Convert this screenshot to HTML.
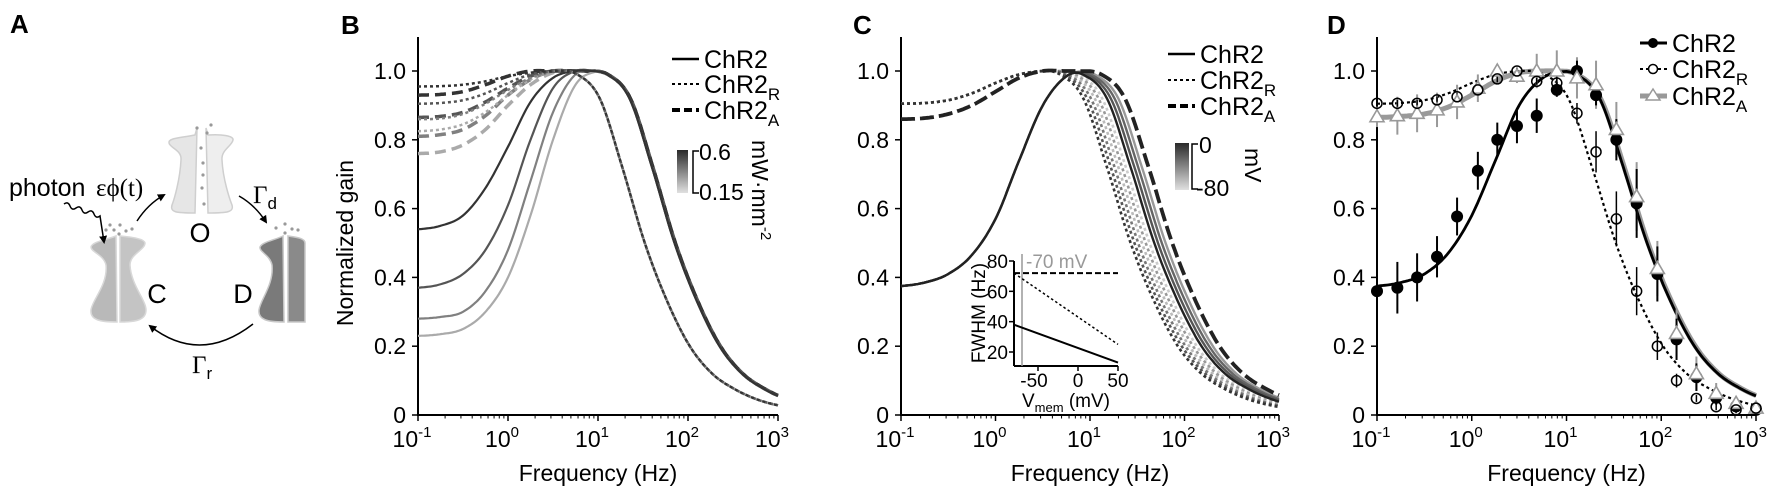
<!DOCTYPE html>
<html><head><meta charset="utf-8"><style>
html,body{margin:0;padding:0;background:#fff}
svg{display:block;font-family:"Liberation Sans",Arial,sans-serif}
</style></head><body>
<svg id="fig" width="1779" height="491" viewBox="0 0 1779 491" xmlns="http://www.w3.org/2000/svg">
<defs>
<linearGradient id="cbar" x1="0" y1="0" x2="0" y2="1"><stop offset="0" stop-color="#2a2a2a"/><stop offset="1" stop-color="#e0e0e0"/></linearGradient>
<marker id="ah" markerWidth="8" markerHeight="8" refX="6" refY="4" orient="auto" markerUnits="userSpaceOnUse"><path d="M0,0 L8,4 L0,8 Z" fill="#000"/></marker>
</defs>
<!-- Panel A -->
<g>
<text x="10" y="33" font-size="26" font-weight="bold">A</text>
<g stroke="#cfcfcf" stroke-width="1.5">
<path d="M197,128 L195,135 C180,138 168,138 169,143 C170,148 182,150 181,160 C180,180 174,200 172,205 C170,212 175,213 195,213 Z" fill="#e6e6e6"/>
<path d="M206,128 L208,135 C222,134 234,136 233,140 C232,146 221,150 222,160 C223,180 230,200 232,205 C234,212 228,213 208,213 Z" fill="#eeeeee"/>
</g>
<g fill="#999"><circle cx="197" cy="128" r="1.6"/><circle cx="211" cy="125" r="1.6"/><circle cx="207" cy="133" r="1.6"/><circle cx="201" cy="148" r="1.6"/><circle cx="203" cy="163" r="1.6"/><circle cx="203" cy="175" r="1.6"/><circle cx="202" cy="188" r="1.6"/><circle cx="204" cy="204" r="1.6"/></g>
<text x="200" y="242" font-size="27" text-anchor="middle">O</text>
<g stroke="#d8d8d8" stroke-width="1.5">
<path d="M116,236 C105,240 92,242 91,247 C91,252 104,255 106,265 C108,285 92,300 91,310 C90,320 100,322 117,322 Z" fill="#b9b9b9"/>
<path d="M120,236 C128,237 144,238 145,243 C145,250 130,254 130,265 C131,285 146,300 146,310 C146,320 136,322 120,322 Z" fill="#c4c4c4"/>
</g>
<g fill="#999"><circle cx="106" cy="230" r="1.6"/><circle cx="114" cy="230" r="1.6"/><circle cx="120" cy="225" r="1.6"/><circle cx="126" cy="231" r="1.6"/><circle cx="132" cy="229" r="1.6"/><circle cx="119" cy="234" r="1.6"/><circle cx="110" cy="225" r="1.6"/></g>
<text x="157" y="303" font-size="27" text-anchor="middle">C</text>
<g stroke="#c8c8c8" stroke-width="1.5">
<path d="M283,236 C275,240 262,242 260,247 C259,252 270,255 272,265 C274,285 260,300 259,310 C258,320 268,322 284,322 Z" fill="#7a7a7a"/>
<path d="M288,236 C295,237 305,238 305,243 L305,322 L288,322 Z" fill="#8a8a8a"/>
</g>
<g fill="#999"><circle cx="276" cy="228" r="1.6"/><circle cx="285" cy="224" r="1.6"/><circle cx="292" cy="229" r="1.6"/><circle cx="285" cy="233" r="1.6"/><circle cx="298" cy="230" r="1.6"/></g>
<text x="243" y="303" font-size="27" text-anchor="middle">D</text>
<text x="9" y="196" font-size="25">photon</text>
<text x="96" y="196" font-size="25" font-family="Liberation Serif,serif">εϕ(t)</text>
<path d="M64,204 q4,-3 6,2 q2,5 6,2 q4,-3 6,2 q2,5 6,2 q4,-3 6,2 q2,5 6,2 L104,242" fill="none" stroke="#000" stroke-width="1.5" marker-end="url(#ah)"/>
<path d="M137,221 Q148,204 164,195" fill="none" stroke="#000" stroke-width="1.5" marker-end="url(#ah)"/>
<path d="M239,196 Q255,205 266,222" fill="none" stroke="#000" stroke-width="1.5" marker-end="url(#ah)"/>
<path d="M253,324 Q200,365 150,326" fill="none" stroke="#000" stroke-width="1.5" marker-end="url(#ah)"/>
<text x="253" y="203" font-size="25" font-family="Liberation Serif,serif">Γ<tspan font-size="17" dy="6" font-family="Liberation Sans,sans-serif">d</tspan></text>
<text x="192" y="373" font-size="25" font-family="Liberation Serif,serif">Γ<tspan font-size="17" dy="6" font-family="Liberation Sans,sans-serif">r</tspan></text>
</g>
<g id="pB"></g>
<g id="pC"></g>
<g id="pD"></g>
</svg>
<script>
// ---------- data ----------
const lowLogF = [-1,-0.75,-0.5,-0.25,0,0.25,0.5,0.75,1];
const tailRel = [-1,-0.75,-0.5,-0.25,0,0.25,0.5,0.75,1,1.25,1.5,1.75,2];
const tailShape = [1,0.99,0.92,0.72,0.5,0.33,0.2,0.12,0.075,0.045,0.027,0.017,0.011];

// Panel B (intensity 0.6 -> 0.15 mW/mm2)
const bGrays = ['#333333','#555555','#808080','#aaaaaa'];
const bSolidLow = [
 [0.54,0.55,0.58,0.66,0.78,0.91,0.98,1.0,1.0],
 [0.37,0.38,0.41,0.48,0.61,0.80,0.95,1.0,1.0],
 [0.28,0.285,0.30,0.36,0.48,0.68,0.88,0.99,1.0],
 [0.23,0.235,0.25,0.30,0.40,0.58,0.80,0.96,1.0]];
const bSolidHalf = [1.85,1.85,1.85,1.85];
const bDotLow = [
 [0.955,0.956,0.96,0.97,0.985,0.995,1.0,1.0,1.0],
 [0.905,0.907,0.915,0.935,0.965,0.99,1.0,1.0,1.0],
 [0.86,0.862,0.875,0.905,0.945,0.98,1.0,1.0,1.0],
 [0.825,0.83,0.845,0.88,0.93,0.975,1.0,1.0,1.0]];
const bDotHalf = [1.52,1.52,1.52,1.52];
const bDashLow = [
 [0.93,0.932,0.94,0.96,0.985,1.0,1.0,1.0,1.0],
 [0.865,0.868,0.88,0.91,0.95,0.985,1.0,1.0,1.0],
 [0.81,0.815,0.83,0.87,0.93,0.975,1.0,1.0,1.0],
 [0.76,0.765,0.785,0.83,0.9,0.96,0.995,1.0,1.0]];
const bDashHalf = [1.86,1.86,1.86,1.86];

// Panel C (membrane voltage)
const cSolidLow = [0.375,0.385,0.41,0.465,0.57,0.74,0.90,0.985,1.0];
const cDotLow = [0.905,0.907,0.915,0.935,0.965,0.99,1.0,1.0,1.0];
const cDashLow = [0.86,0.863,0.875,0.90,0.94,0.98,1.0,1.0,1.0];
const cDotHalf = [1.63,1.59,1.55,1.51,1.47,1.43];
const cDotGray = ['#cccccc','#999999','#bbbbbb','#777777','#555555','#333333'];
const cSolidHalf = [1.80,1.76,1.72,1.68];
const cSolidGray = ['#999999','#666666','#555555','#222222'];
const cDashHalf = 1.87;
// inset FWHM vs Vmem
const insetV = [-80,50];
const insetDash = [72,72];
const insetDot = [72,25];
const insetSolid = [38,13];
const insetRest = -70;

// Panel D data
const dFreq = [0.1,0.164,0.265,0.43,0.7,1.16,1.86,3.0,4.85,7.9,12.9,20.5,33.6,55,91,145,235,380,616,1000];
const dChR2 = [0.36,0.37,0.40,0.46,0.577,0.71,0.80,0.84,0.87,0.945,1.0,0.93,0.80,0.615,0.41,0.22,0.11,0.05,0.025,0.015];
const dChR2Err = [0.0,0.075,0.07,0.06,0.055,0.055,0.05,0.05,0.05,0.02,0.03,0.03,0.06,0.1,0.08,0.06,0.04,0.02,0.01,0.01];
const dChR2R = [0.906,0.906,0.906,0.916,0.925,0.945,0.977,1.0,0.97,0.965,0.877,0.765,0.57,0.36,0.2,0.10,0.048,0.024,0.015,0.02];
const dChR2RErr = [0.01,0.01,0.01,0.01,0.01,0.01,0.01,0.01,0.01,0.02,0.03,0.06,0.08,0.07,0.04,0.02,0.01,0.01,0.01,0.01];
const dChR2A = [0.867,0.87,0.877,0.887,0.91,0.95,1.0,0.985,1.0,1.0,0.98,0.96,0.83,0.635,0.426,0.237,0.12,0.063,0.034,0.02];
const dChR2AErr = [0.03,0.055,0.055,0.05,0.05,0.04,0.02,0.02,0.05,0.06,0.06,0.07,0.08,0.1,0.08,0.07,0.05,0.03,0.02,0.01];
const dFitSolidLow = [0.375,0.385,0.41,0.47,0.58,0.74,0.90,0.98,1.0];
const dFitSolidHalf = 1.85;
const dFitDotLow = [0.905,0.907,0.915,0.935,0.965,0.99,1.0,1.0,1.0];
const dFitDotHalf = 1.52;
const dFitGrayLow = [0.865,0.868,0.875,0.895,0.93,0.97,0.995,1.0,1.0];
const dFitGrayHalf = 1.86;

const yTicks = [0,0.2,0.4,0.6,0.8,1.0];
const yTickLabels = ['0','0.2','0.4','0.6','0.8','1.0'];
const xDecades = [-1,0,1,2,3];
const insetYTicks = [20,40,60,80];
const insetXTicks = [-50,0,50];

// ---------- helpers ----------
const NS = 'http://www.w3.org/2000/svg';
function mk(tag, attrs, parent){ const e=document.createElementNS(NS,tag); for(const k in attrs) e.setAttribute(k,attrs[k]); if(parent) parent.appendChild(e); return e; }
function interpUniform(xs, ys, x){
  const n=xs.length, h=xs[1]-xs[0];
  if(x<=xs[0]) return ys[0]; if(x>=xs[n-1]) return ys[n-1];
  const i=Math.min(n-2,Math.floor((x-xs[0])/h)); const t=(x-xs[i])/h;
  const p0=ys[Math.max(0,i-1)], p1=ys[i], p2=ys[i+1], p3=ys[Math.min(n-1,i+2)];
  const t2=t*t,t3=t2*t;
  return 0.5*((2*p1)+(-p0+p2)*t+(2*p0-5*p1+4*p2-p3)*t2+(-p0+3*p1-3*p2+p3)*t3);
}
function model(low, half, lf){ return interpUniform(lowLogF, low, lf) * interpUniform(tailRel, tailShape, lf-half); }
function makeAxes(g, x0, x1, y0, y1, name){
  const sx = lf => x0 + (lf+1)/4*(x1-x0);
  const sy = v => y0 - v*(y0-y1);
  const ax = mk('g',{},g);
  
  
  mk('line',{x1:x0,y1:37,x2:x0,y2:y0,stroke:'#000','stroke-width':2},ax);
  mk('line',{x1:x0-1,y1:y0,x2:x1,y2:y0,stroke:'#000','stroke-width':2},ax);
  yTicks.forEach((v,i)=>{
    mk('line',{x1:x0-6,y1:sy(v),x2:x0,y2:sy(v),stroke:'#000','stroke-width':1.5},ax);
    const t=mk('text',{x:x0-12,y:sy(v)+8,'font-size':23,'text-anchor':'end'},ax); t.textContent=yTickLabels[i];
    
    
  });
  xDecades.forEach(d=>{
    mk('line',{x1:sx(d),y1:y0,x2:sx(d),y2:y0+6,stroke:'#000','stroke-width':1.5},ax);
    if(d<3) for(let m=2;m<10;m++){ const xx=sx(d+Math.log10(m)); mk('line',{x1:xx,y1:y0,x2:xx,y2:y0+3.5,stroke:'#000','stroke-width':1},ax); }
    const t=mk('text',{x:sx(d)-6,y:y0+32,'font-size':23,'text-anchor':'middle'},ax);
    
    
    t.appendChild(document.createTextNode('10'));
    const s=mk('tspan',{'font-size':15,dy:-10},t); s.textContent=String(d);
  });
  const xt=mk('text',{x:(x0+x1)/2,y:y0+66,'font-size':23,'text-anchor':'middle'},ax); xt.textContent='Frequency (Hz)';
  
  
  return {sx,sy};
}
function curvePath(fn, sx, sy){ let d=''; for(let lf=-1; lf<=3.0001; lf+=0.02){ d+=(d?'L':'M')+sx(lf).toFixed(1)+','+sy(fn(lf)).toFixed(1); } return d; }
function drawCurve(g, fn, ax, stroke, width, dash, name){
  const p=mk('path',{d:curvePath(fn,ax.sx,ax.sy),fill:'none',stroke:stroke,'stroke-width':width},g);
  if(dash) p.setAttribute('stroke-dasharray',dash);
  
  
  return p;
}
function legendRow(g, x, y, dash, width, stroke, label, sub, name){
  const l=mk('line',{x1:x,y1:y,x2:x+27,y2:y,stroke:stroke,'stroke-width':width},g);
  if(dash) l.setAttribute('stroke-dasharray',dash);
  const t=mk('text',{x:x+32,y:y+9,'font-size':25},g);
  t.appendChild(document.createTextNode(label));
  if(sub){ const s=mk('tspan',{'font-size':17,dy:7},t); s.textContent=sub; }
  
  
  return l;
}

// ---------- Panel B ----------
(function(){
  const g=document.getElementById('pB');
  const lab=mk('text',{x:341,y:34,'font-size':26,'font-weight':'bold'},g); lab.textContent='B';
  
  
  const ax=makeAxes(g,418,778,415,71,'panel-b');
  const yt=mk('text',{x:0,y:0,'font-size':23,'text-anchor':'middle',transform:'translate(353,243) rotate(-90)'},g); yt.textContent='Normalized gain';
  
  
  for(let i=3;i>=0;i--) drawCurve(g, lf=>model(bDashLow[i],bDashHalf[i],lf), ax, bGrays[i], 3.5, '11,6', 'chr2a-curve-b');
  for(let i=3;i>=0;i--) drawCurve(g, lf=>model(bSolidLow[i],bSolidHalf[i],lf), ax, bGrays[i], 2.2, null, 'chr2-curve-b');
  for(let i=3;i>=0;i--) drawCurve(g, lf=>model(bDotLow[i],bDotHalf[i],lf), ax, bGrays[i], 2.5, '3,3', 'chr2r-curve-b');
  legendRow(g,672,59,null,2.5,'#000','ChR2','', 'legend-chr2');
  legendRow(g,672,84,'3,3',2,'#000','ChR2','R', 'legend-chr2r');
  legendRow(g,672,110,'8,4',4,'#000','ChR2','A', 'legend-chr2a');
  const cb=mk('rect',{x:677,y:150,width:11,height:43,fill:'url(#cbar)'},g);
  
  
  mk('path',{d:'M699,151 L693,151 L693,193 L699,193',fill:'none',stroke:'#000','stroke-width':1.5},g);
  const t1=mk('text',{x:699,y:160,'font-size':23},g); t1.textContent='0.6';
  const t2=mk('text',{x:699,y:200,'font-size':23},g); t2.textContent='0.15';
  const u=mk('text',{x:0,y:0,'font-size':23,transform:'translate(752,140) rotate(90)'},g);
  u.appendChild(document.createTextNode('mW·mm'));
  const us=mk('tspan',{'font-size':15,dy:-9},u); us.textContent='-2';
  
  
})();

// ---------- Panel C ----------
(function(){
  const g=document.getElementById('pC');
  const lab=mk('text',{x:853,y:34,'font-size':26,'font-weight':'bold'},g); lab.textContent='C';
  
  
  const ax=makeAxes(g,901,1279,415,71,'panel-c');
  cDotHalf.forEach((h,i)=>drawCurve(g, lf=>model(cDotLow,h,lf), ax, cDotGray[i], 2.6, '3,3', 'chr2r-curve-c'));
  cSolidHalf.forEach((h,i)=>drawCurve(g, lf=>model(cSolidLow,h,lf), ax, cSolidGray[i], 2.4, null, 'chr2-curve-c'));
  drawCurve(g, lf=>model(cDashLow,cDashHalf,lf), ax, '#222', 3.8, '14,5', 'chr2a-curve-c');
  legendRow(g,1168,54,null,2.5,'#000','ChR2','', 'legend-chr2');
  legendRow(g,1168,80,'3,3',2,'#000','ChR2','R', 'legend-chr2r');
  legendRow(g,1168,106,'8,4',4,'#000','ChR2','A', 'legend-chr2a');
  const cb=mk('rect',{x:1175,y:143,width:14,height:47,fill:'url(#cbar)'},g);
  
  
  mk('path',{d:'M1198,144 L1192,144 L1192,189 L1198,189',fill:'none',stroke:'#000','stroke-width':1.5},g);
  const t1=mk('text',{x:1199,y:153,'font-size':23},g); t1.textContent='0';
  const t2=mk('text',{x:1196,y:196,'font-size':23},g); t2.textContent='-80';
  const u=mk('text',{x:0,y:0,'font-size':23,transform:'translate(1245,148) rotate(90)'},g); u.textContent='mV';
  
  
  // inset
  const ig=mk('g',{},g);
  
  
  const ix0=1014, ix1=1118, iyb=366;
  const isx=v=>ix0+(v-insetV[0])/(insetV[1]-insetV[0])*(ix1-ix0);
  const isy=h=>352-(h-20)*(352-261)/60;
  mk('line',{x1:ix0,y1:261,x2:ix0,y2:iyb,stroke:'#000','stroke-width':2},ig);
  mk('line',{x1:ix0,y1:iyb,x2:ix1,y2:iyb,stroke:'#000','stroke-width':2},ig);
  insetYTicks.forEach(v=>{ mk('line',{x1:ix0-5,y1:isy(v),x2:ix0,y2:isy(v),stroke:'#000','stroke-width':1.5},ig);
    const t=mk('text',{x:ix0-6,y:isy(v)+7,'font-size':19,'text-anchor':'end'},ig); t.textContent=String(v); });
  insetXTicks.forEach(v=>{ mk('line',{x1:isx(v),y1:iyb,x2:isx(v),y2:iyb+5,stroke:'#000','stroke-width':1.5},ig);
    const t=mk('text',{x:isx(v)-(v<0?4:0),y:iyb+21,'font-size':19,'text-anchor':'middle'},ig); t.textContent=String(v); });
  const xl=mk('text',{x:1066,y:iyb+41,'font-size':19,'text-anchor':'middle'},ig);
  xl.appendChild(document.createTextNode('V')); const xs=mk('tspan',{'font-size':13,dy:5},xl); xs.textContent='mem';
  const xs2=mk('tspan',{dy:-5},xl); xs2.textContent=' (mV)';
  
  
  const yl=mk('text',{x:0,y:0,'font-size':19,'text-anchor':'middle',transform:'translate(985,313) rotate(-90)'},ig); yl.textContent='FWHM (Hz)';
  
  
  mk('line',{x1:isx(insetRest),y1:254,x2:isx(insetRest),y2:iyb,stroke:'#999','stroke-width':1.5},ig);
  const rl=mk('text',{x:isx(insetRest)+4,y:268,'font-size':19,fill:'#999'},ig); rl.textContent='-70 mV';
  
  
  const l1=mk('line',{x1:isx(insetV[0]),y1:isy(insetDash[0]),x2:isx(insetV[1]),y2:isy(insetDash[1]),stroke:'#000','stroke-width':2,'stroke-dasharray':'6,3'},ig);
  
  
  const l2=mk('line',{x1:isx(insetV[0]),y1:isy(insetDot[0]),x2:isx(insetV[1]),y2:isy(insetDot[1]),stroke:'#000','stroke-width':1.5,'stroke-dasharray':'2.5,2.5'},ig);
  
  
  const l3=mk('line',{x1:isx(insetV[0]),y1:isy(insetSolid[0]),x2:isx(insetV[1]),y2:isy(insetSolid[1]),stroke:'#000','stroke-width':2},ig);
  
  
})();

// ---------- Panel D ----------
(function(){
  const g=document.getElementById('pD');
  const lab=mk('text',{x:1327,y:34,'font-size':26,'font-weight':'bold'},g); lab.textContent='D';
  
  
  const ax=makeAxes(g,1377,1756,415,71,'panel-d');
  drawCurve(g, lf=>model(dFitGrayLow,dFitGrayHalf,lf), ax, '#999', 5, null, 'chr2a-fit');
  drawCurve(g, lf=>model(dFitSolidLow,dFitSolidHalf,lf), ax, '#000', 2.8, null, 'chr2-fit');
  drawCurve(g, lf=>model(dFitDotLow,dFitDotHalf,lf), ax, '#000', 2.2, '3,3', 'chr2r-fit');
  const px=f=>ax.sx(Math.log10(f));
  dFreq.forEach((f,i)=>{
    const x=px(f);
    let e=mk('line',{x1:x,y1:ax.sy(dChR2A[i]-dChR2AErr[i]),x2:x,y2:ax.sy(dChR2A[i]+dChR2AErr[i]),stroke:'#999','stroke-width':2},g);
    
    
    e=mk('line',{x1:x,y1:ax.sy(dChR2[i]-dChR2Err[i]),x2:x,y2:ax.sy(dChR2[i]+dChR2Err[i]),stroke:'#000','stroke-width':2},g);
    
    
    e=mk('line',{x1:x,y1:ax.sy(dChR2R[i]-dChR2RErr[i]),x2:x,y2:ax.sy(dChR2R[i]+dChR2RErr[i]),stroke:'#000','stroke-width':1.5},g);
    
    
  });
  dFreq.forEach((f,i)=>{
    const x=px(f);
    const c=mk('circle',{cx:x,cy:ax.sy(dChR2[i]),r:6,fill:'#000'},g);
    
    
    const y=ax.sy(dChR2A[i]);
    const t=mk('path',{d:`M${x},${y-7} L${x+7},${y+5} L${x-7},${y+5} Z`,fill:'#fff',stroke:'#999','stroke-width':1.6},g);
    
    
    const o=mk('circle',{cx:x,cy:ax.sy(dChR2R[i]),r:5,fill:'none',stroke:'#000','stroke-width':1.5},g);
    
    
  });
  legendRow(g,1640,43,null,3,'#000','ChR2','', 'legend-chr2');
  mk('circle',{cx:1653,cy:43,r:5,fill:'#000'},g);
  legendRow(g,1640,69,'3,3',2,'#000','ChR2','R', 'legend-chr2r');
  mk('circle',{cx:1653,cy:69,r:4.5,fill:'#fff',stroke:'#000','stroke-width':1.5},g);
  legendRow(g,1640,96,null,5,'#999','ChR2','A', 'legend-chr2a');
  mk('path',{d:'M1653,89 L1660,100 L1646,100 Z',fill:'#fff',stroke:'#999','stroke-width':1.5},g);
})();
</script>
</body></html>
